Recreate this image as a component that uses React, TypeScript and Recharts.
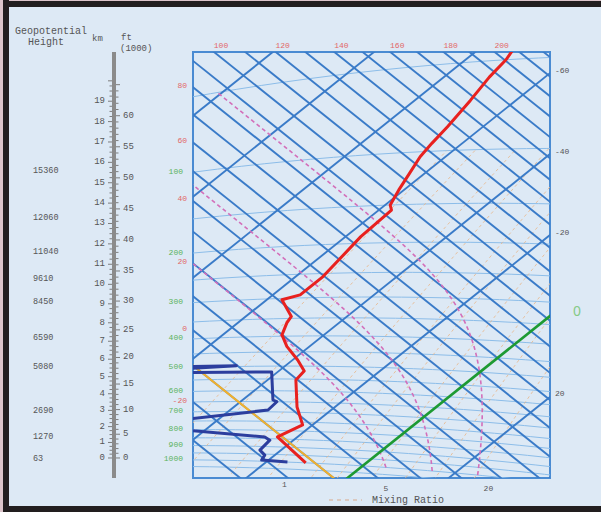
import {
  ComposedChart,
  Line,
  XAxis,
  YAxis,
  ReferenceArea,
  ReferenceDot,
  ReferenceLine,
} from "recharts";

const MONO = '"Liberation Mono", "DejaVu Sans Mono", monospace';

// sounding, surface upward: pressure (hPa) and temperature (°C)
const tempP = [1000, 838, 765, 674, 554, 518, 478, 432, 396, 362, 345, 303, 293, 256, 190, 156, 150, 134, 118, 104, 94, 83, 68, 57, 50, 45];
const tempT = [-12, -24, -22, -27.5, -34.4, -35, -39, -44.5, -48.3, -50.3, -51, -57, -54.6, -54.6, -57, -57.5, -59, -61, -63, -65, -66, -67, -69, -71, -72, -73.5];

// dew point; the -50/-75 values are dry layers that run off the left edge
const dewP = [1000, 992, 957, 924, 859, 840, 785, 752, 691, 650, 642, 522, 505, 497, 485];
const dewT = [-15.8, -21.4, -22, -24.2, -24.7, -26.5, -50, -50, -32.5, -32.8, -34, -41.2, -75, -49.7, -75];

// tephigram background
const isobars = [1050, 1000, 950, 900, 850, 800, 750, 700, 650, 600, 550, 500, 450, 400, 350, 300, 250, 200, 150, 100, 50];
const isotherms = [-140, -120, -100, -80, -60, -40, -20, 20, 40];
const dryAdiabats = [-40, -30, -20, -10, 0, 10, 20, 30, 40, 50, 60, 70, 80, 90, 100, 110, 120, 130, 140, 150, 160, 170, 180, 190, 200, 210, 220];
const moistAdiabats = [5, 15, 25];
const mixRatios = [0.1, 0.2, 0.5, 1, 2, 3, 5, 8, 12, 20];
const parcelTheta = -10;
const zeroIsotherm = 0;

// labels
const topThetaTicks = [100, 120, 140, 160, 180, 200];
const leftThetaTicks = [80, 60, 40, 20, 0, -20];
const rightTempTicks = [-60, -40, -20, 20];
const pressureTicks = [100, 200, 300, 400, 500, 600, 700, 800, 900, 1000];
const heightLevels = [100, 150, 200, 250, 300, 400, 500, 700, 850, 1000];
const heightValues = ["15360", "12060", "11040", "9610", "8450", "6590", "5080", "2690", "1270", "63"];
const mixTicks = [1, 5, 20];
const kmLabels = [0, 1, 2, 3, 4, 5, 6, 7, 8, 9, 10, 11, 12, 13, 14, 15, 16, 17, 18, 19];
const ftLabels = [0, 5, 10, 15, 20, 25, 30, 35, 40, 45, 50, 55, 60];

// rotated T / ln(theta) frame
const KT = 2.53;
const KTH = 591;
const TH0 = 373.15;
const SQ = 0.8;
const X_MIN = -354;
const X_MAX = 3;
const Y_MIN = -266.4;
const Y_MAX = 159.6;

// ruler pressure range (standard atmosphere)
const P_TOP = 43.8;
const P_BOT = 1183;

const LATTICE = "#3a7bc8";
const RED_TXT = "#e26868";
const GREEN_TXT = "#5cb35c";
const GRAY_TXT = "#555";

type Pt = { x: number; y: number };

const toK = (c: number) => c + 273.15;
const theta = (tC: number, p: number) => toK(tC) * Math.pow(1000 / p, 0.286);
const fromTTheta = (tC: number, thK: number): Pt => {
  const a = KT * tC;
  const b = KTH * Math.log(thK / TH0);
  return { x: a + b, y: SQ * (a - b) };
};
const proj = (tC: number, p: number) => fromTTheta(tC, theta(tC, p));

const samples = (a: number, b: number, step: number) => {
  const out: number[] = [];
  for (let v = a; v <= b + 1e-9; v += step) out.push(v);
  return out;
};

function satMix(tC: number, p: number) {
  const es = 6.112 * Math.exp((17.67 * tC) / (tC + 243.5));
  return (0.622 * es) / (p - es);
}

function moistRate(tC: number, p: number) {
  const T = toK(tC);
  const rs = satMix(tC, p);
  const L = 2.501e6;
  return (287.04 * T + L * rs) / (p * (1005.7 + (L * L * rs * 0.622) / (287.04 * T * T)));
}

function moistPath(tw: number) {
  const pts = [proj(tw, 1000)];
  let t = tw;
  for (let p = 1000; p > 50; p -= 5) {
    const dp = -5;
    const k1 = moistRate(t, p);
    const k2 = moistRate(t + (k1 * dp) / 2, p + dp / 2);
    t += k2 * dp;
    pts.push(proj(t, p + dp));
  }
  return pts;
}

function dewFromMix(r: number, p: number) {
  const e = (r * p) / (622 + r);
  const l = Math.log(e / 6.112);
  return (243.5 * l) / (17.67 - l);
}

const adiabatTop = (thC: number): Pt => {
  const b = KTH * Math.log(toK(thC) / TH0);
  const a = Y_MIN / SQ + b;
  return { x: a + b, y: Y_MIN };
};
const adiabatLeft = (thC: number): Pt => {
  const b = KTH * Math.log(toK(thC) / TH0);
  const a = X_MIN - b;
  return { x: X_MIN, y: SQ * (a - b) };
};
const isothermRight = (t: number): Pt => {
  const a = KT * t;
  const b = X_MAX - a;
  return { x: X_MAX, y: SQ * (a - b) };
};
const isobarLeft = (p: number): Pt => {
  let lo = -240;
  let hi = 80;
  for (let i = 0; i < 60; i++) {
    const mid = (lo + hi) / 2;
    if (proj(mid, p).x < X_MIN) lo = mid;
    else hi = mid;
  }
  return { x: X_MIN, y: proj(lo, p).y };
};
const crossBottom = (pts: Pt[]): Pt => {
  for (let i = 0; i < pts.length - 1; i++) {
    const a = pts[i];
    const b = pts[i + 1];
    if ((a.y - Y_MAX) * (b.y - Y_MAX) <= 0) {
      const f = (Y_MAX - a.y) / (b.y - a.y);
      return { x: a.x + f * (b.x - a.x), y: Y_MAX };
    }
  }
  return pts[0];
};

// standard atmosphere, km <-> hPa
const pOfKm = (km: number) =>
  km <= 11
    ? 1013.25 * Math.pow(1 - 2.25577e-5 * km * 1000, 5.25588)
    : 226.32 * Math.exp(-(km * 1000 - 11000) / 6341.62);
const kmOfP = (p: number) =>
  p >= 226.32
    ? (1 - Math.pow(p / 1013.25, 1 / 5.25588)) / 2.25577e-5 / 1000
    : (11000 - 6341.62 * Math.log(p / 226.32)) / 1000;

const kmTickP = samples(0, 20, 0.25).map(pOfKm);
const ftTickP = samples(0, 65, 1).map((f) => pOfKm(f * 0.3048));

function txt(text: string, dx: number, dy: number, fill: string, anchor = "middle", size = 8, family = MONO) {
  return (props: any) => {
    const vb = props.viewBox || { x: 0, y: 0 };
    return (
      <text
        x={vb.x + dx}
        y={vb.y + dy}
        fill={fill}
        fontSize={size}
        fontFamily={family}
        textAnchor={anchor}
        dominantBaseline="central"
      >
        {text}
      </text>
    );
  };
}

function KmTick(props: any) {
  const { x, y, payload } = props;
  const km = kmOfP(payload.value);
  const major = Math.abs(km - Math.round(km)) < 0.02;
  const k = Math.round(km);
  return (
    <g>
      <line x1={x} x2={x - (major ? 4 : 2.5)} y1={y} y2={y} stroke="#7d7d7d" strokeWidth={1} />
      {major && kmLabels.includes(k) ? (
        <text x={x - 7} y={y} fontSize={9} fontFamily={MONO} fill={GRAY_TXT} textAnchor="end" dominantBaseline="central">
          {k}
        </text>
      ) : null}
    </g>
  );
}

function FtTick(props: any) {
  const { x, y, payload } = props;
  const ft = kmOfP(payload.value) / 0.3048;
  const f = Math.round(ft);
  const major = f % 5 === 0;
  return (
    <g>
      <line x1={x} x2={x + (major ? 4 : 2.5)} y1={y} y2={y} stroke="#7d7d7d" strokeWidth={1} />
      {major && ftLabels.includes(f) ? (
        <text x={x + 7} y={y} fontSize={9} fontFamily={MONO} fill={GRAY_TXT} textAnchor="start" dominantBaseline="central">
          {f}
        </text>
      ) : null}
    </g>
  );
}

const lineProps = { dot: false, activeDot: false, isAnimationActive: false, dataKey: "y", type: "linear" as const };

export default function App() {
  const tSamples = samples(-170, 70, 4);
  const isobarPts = isobars.map((p) => ({ p, pts: tSamples.map((t) => proj(t, p)) }));
  const mixPts = mixRatios.map((r) => ({
    r,
    pts: samples(100, 1100, 25)
      .reverse()
      .map((p) => proj(dewFromMix(r, p), p)),
  }));
  const moistPts = moistAdiabats.map((tw) => ({ tw, pts: moistPath(tw) }));
  const tempPts = tempP.map((p, i) => proj(tempT[i], p));
  const dewPts = dewP.map((p, i) => proj(dewT[i], p));

  const adiabatSeg = (thC: number) => [fromTTheta(-180, toK(thC)), fromTTheta(90, toK(thC))];
  const isothermSeg = (t: number) => [fromTTheta(t, 120), fromTTheta(t, 800)];

  return (
    <div
      style={{
        position: "absolute",
        left: 0,
        top: 0,
        width: 601,
        height: 512,
        background: "#dde9f5",
        overflow: "hidden",
      }}
    >
      {/* frame */}
      <div style={{ position: "absolute", left: 0, top: 0, width: 3, height: 512, background: "#dcc4ca" }} />
      <div style={{ position: "absolute", left: 0, top: 0, width: 601, height: 1, background: "#dcc4ca" }} />
      <div style={{ position: "absolute", left: 3, top: 0, width: 6, height: 512, background: "#221e1f" }} />
      <div style={{ position: "absolute", left: 3, top: 1, width: 598, height: 6, background: "#221e1f" }} />
      <div style={{ position: "absolute", left: 3, top: 506, width: 598, height: 6, background: "#221e1f" }} />

      <div style={{ position: "absolute", left: 0, top: 0 }}>
        <ComposedChart width={601} height={512} margin={{ top: 52, right: 51, bottom: 34, left: 193 }}>
          <XAxis type="number" dataKey="x" domain={[X_MIN, X_MAX]} allowDataOverflow hide />
          <YAxis type="number" dataKey="y" domain={[Y_MIN, Y_MAX]} allowDataOverflow reversed hide />

          {isobarPts.map(({ p, pts }) => (
            <Line key={`p${p}`} {...lineProps} data={pts} stroke="#8cbde9" strokeWidth={1} />
          ))}
          {mixPts.map(({ r, pts }) => (
            <Line key={`r${r}`} {...lineProps} data={pts} stroke="#e7b98e" strokeWidth={1} strokeDasharray="3 3" strokeOpacity={0.85} />
          ))}
          {dryAdiabats.map((th) => (
            <ReferenceLine key={`th${th}`} segment={adiabatSeg(th)} stroke={LATTICE} strokeWidth={1.9} ifOverflow="hidden" />
          ))}
          {isotherms.map((t) => (
            <ReferenceLine key={`t${t}`} segment={isothermSeg(t)} stroke={LATTICE} strokeWidth={1.9} ifOverflow="hidden" />
          ))}
          {moistPts.map(({ tw, pts }) => (
            <Line key={`w${tw}`} {...lineProps} data={pts} stroke="#d36fba" strokeWidth={1.6} strokeDasharray="4 3" />
          ))}
          <ReferenceLine segment={isothermSeg(zeroIsotherm)} stroke="#1d9a33" strokeWidth={2.6} ifOverflow="hidden" />
          <ReferenceLine segment={adiabatSeg(parcelTheta)} stroke="#f2b12c" strokeWidth={2} ifOverflow="hidden" />

          <Line {...lineProps} data={dewPts} stroke="#2c3e9e" strokeWidth={3} strokeLinejoin="round" />
          <Line {...lineProps} data={tempPts} stroke="#e8211f" strokeWidth={3} strokeLinejoin="round" />

          <ReferenceArea x1={X_MIN} x2={X_MAX} y1={Y_MIN} y2={Y_MAX} fill="none" stroke="#4a8bd2" strokeWidth={2} />

          {topThetaTicks.map((th) => {
            const q = adiabatTop(th);
            return <ReferenceDot key={`lt${th}`} x={q.x} y={q.y} r={0} fill="none" stroke="none" ifOverflow="visible" label={txt(String(th), 7, -7, RED_TXT)} />;
          })}
          {leftThetaTicks.map((th) => {
            const q = adiabatLeft(th);
            return <ReferenceDot key={`ll${th}`} x={q.x} y={q.y} r={0} fill="none" stroke="none" ifOverflow="visible" label={txt(String(th), -6, -2, RED_TXT, "end")} />;
          })}
          {pressureTicks.map((p) => {
            const q = isobarLeft(p);
            return <ReferenceDot key={`lp${p}`} x={q.x} y={q.y} r={0} fill="none" stroke="none" ifOverflow="visible" label={txt(String(p), -10, -1, GREEN_TXT, "end")} />;
          })}
          {heightLevels.map((p, i) => {
            const q = isobarLeft(p);
            return <ReferenceDot key={`lh${p}`} x={q.x} y={q.y} r={0} fill="none" stroke="none" ifOverflow="visible" label={txt(heightValues[i], -160, -1, GRAY_TXT, "start", 8.5)} />;
          })}
          {rightTempTicks.map((t) => {
            const q = isothermRight(t);
            return <ReferenceDot key={`lr${t}`} x={q.x} y={q.y} r={0} fill="none" stroke="none" ifOverflow="visible" label={txt(String(t), 5, -3, GRAY_TXT, "start")} />;
          })}
          {(() => {
            const q = isothermRight(zeroIsotherm);
            return <ReferenceDot x={q.x} y={q.y} r={0} fill="none" stroke="none" ifOverflow="visible" label={txt("0", 27, -6, "#86c986", "middle", 14, '"Noto Sans", sans-serif')} />;
          })()}
          {mixTicks.map((r) => {
            const line = mixPts.find((m) => m.r === r);
            const q = crossBottom(line ? line.pts : []);
            return <ReferenceDot key={`lm${r}`} x={q.x} y={q.y} r={0} fill="none" stroke="none" ifOverflow="visible" label={txt(String(r), 14, 10, GRAY_TXT)} />;
          })}
        </ComposedChart>
      </div>

      {/* height ruler: km on the left, thousands of feet on the right */}
      <div style={{ position: "absolute", left: 0, top: 0 }}>
        <ComposedChart width={193} height={512} margin={{ top: 52, right: 0, bottom: 34, left: 60 }} data={[{ x: 0 }, { x: 1 }]}>
          <XAxis type="number" dataKey="x" domain={[0, 1]} hide />
          <YAxis
            yAxisId="km"
            orientation="left"
            width={52}
            type="number"
            scale="log"
            domain={[P_TOP, P_BOT]}
            reversed
            allowDataOverflow
            ticks={kmTickP}
            interval={0}
            tick={KmTick}
            tickSize={0}
            tickMargin={0}
            tickLine={false}
            axisLine={false}
          />
          <YAxis
            yAxisId="ft"
            orientation="right"
            width={77}
            type="number"
            scale="log"
            domain={[P_TOP, P_BOT]}
            reversed
            allowDataOverflow
            ticks={ftTickP}
            interval={0}
            tick={FtTick}
            tickSize={0}
            tickMargin={0}
            tickLine={false}
            axisLine={false}
          />
          <ReferenceArea yAxisId="km" x1={0} x2={1} y1={P_TOP} y2={P_BOT} fill="#8b8b8b" fillOpacity={1} ifOverflow="visible" />
        </ComposedChart>
      </div>

      <svg width={601} height={512} style={{ position: "absolute", left: 0, top: 0, pointerEvents: "none" }}>
        <g fontFamily={MONO} fill={GRAY_TXT}>
          <text x={15} y={34} fontSize={10}>Geopotential</text>
          <text x={28} y={45} fontSize={10}>Height</text>
          <text x={92} y={41} fontSize={9}>km</text>
          <text x={121} y={40} fontSize={9}>ft</text>
          <text x={120} y={51} fontSize={9}>(1000)</text>
          <line x1={329} x2={362} y1={500} y2={500} stroke="#d9a98a" strokeWidth={1} strokeDasharray="4 4" />
          <text x={372} y={503} fontSize={10}>Mixing Ratio</text>
        </g>
      </svg>
    </div>
  );
}
